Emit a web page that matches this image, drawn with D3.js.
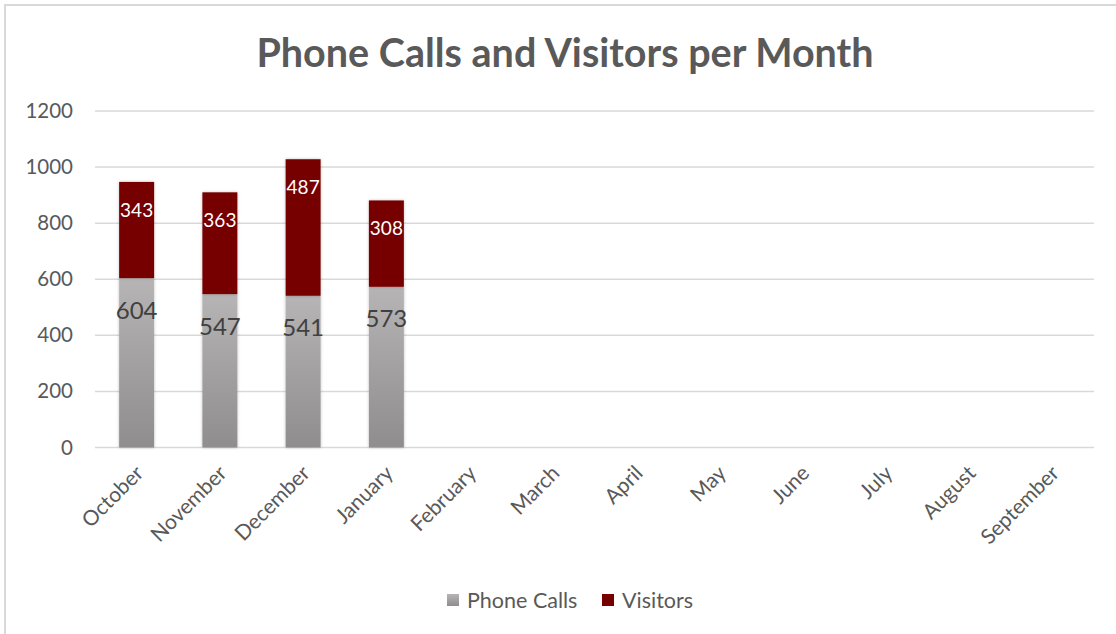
<!DOCTYPE html>
<html>
<head>
<meta charset="utf-8">
<script src="https://cdn.jsdelivr.net/npm/d3@7"></script>
<style>
  html, body { margin: 0; padding: 0; background: #fff; }
  svg { display: block; font-family: Lato, "Open Sans", sans-serif; }
</style>
</head>
<body>
<svg id="chart" width="1116" height="634"></svg>
<script>
const title = "Phone Calls and Visitors per Month";
const months = ["October", "November", "December", "January", "February", "March",
  "April", "May", "June", "July", "August", "September"];
// only the first four months have data so far
const phoneCalls = [604, 547, 541, 573];
const visitors = [343, 363, 487, 308];
const seriesNames = ["Phone Calls", "Visitors"];
const yTicks = [0, 200, 400, 600, 800, 1000, 1200];

const dims = {
  width: 1116,
  height: 634,
  left: 95,
  right: 1094,
  top: 111,
  bottom: 447.5,
};

const rows = months.map((m, i) => ({
  month: m,
  "Phone Calls": phoneCalls[i] || 0,
  Visitors: visitors[i] || 0,
}));

const svg = d3.select("#chart");

const defs = svg.append("defs");
defs
  .append("linearGradient")
  .attr("id", "gray-grad")
  .attr("x1", 0).attr("y1", 0).attr("x2", 0).attr("y2", 1)
  .call((g) => g.append("stop").attr("offset", "0%").attr("stop-color", "#b6b4b4"))
  .call((g) => g.append("stop").attr("offset", "100%").attr("stop-color", "#8f8d8d"));
defs
  .append("filter")
  .attr("id", "bar-shadow")
  .attr("x", "-20%").attr("y", "-5%").attr("width", "140%").attr("height", "110%")
  .append("feDropShadow")
  .attr("dx", 0).attr("dy", 0)
  .attr("stdDeviation", 1.5)
  .attr("flood-color", "#000")
  .attr("flood-opacity", 0.25);

const color = d3.scaleOrdinal().domain(seriesNames).range(["url(#gray-grad)", "#760000"]);

// frame (only top and left edges show in the picture)
svg.append("path")
  .attr("d", `M5,${dims.height} V5 H${dims.width}`)
  .attr("fill", "none")
  .attr("stroke", "#d9d9d9")
  .attr("stroke-width", 2);

svg.append("text")
  .attr("x", 565)
  .attr("y", 53)
  .attr("dy", "0.35em")
  .attr("text-anchor", "middle")
  .attr("fill", "#595959")
  .attr("font-size", 39.5)
  .attr("font-weight", "bold")
  .text(title);

const x = d3
  .scaleBand()
  .domain(months)
  .range([dims.left, dims.right])
  .paddingInner(0.58)
  .paddingOuter(0.29);

const y = d3.scaleLinear().domain([0, 1200]).range([dims.bottom, dims.top]);

// gridlines
svg.append("g")
  .attr("class", "grid")
  .selectAll("line")
  .data(yTicks)
  .join("line")
  .attr("x1", dims.left)
  .attr("x2", dims.right)
  .attr("y1", (d) => y(d))
  .attr("y2", (d) => y(d))
  .attr("stroke", "#d9d9d9")
  .attr("stroke-width", 1.5);

// y axis labels
const yAxis = svg.append("g")
  .attr("transform", `translate(${dims.left},0)`)
  .call(d3.axisLeft(y).tickValues(yTicks).tickFormat(d3.format("d")).tickSize(0).tickPadding(22));
yAxis.select(".domain").remove();
yAxis.selectAll("text")
  .attr("fill", "#595959")
  .attr("font-size", 20.5)
  .attr("font-family", "Lato, sans-serif");

// x axis labels
const xAxis = svg.append("g")
  .attr("transform", `translate(0,${dims.bottom})`)
  .call(d3.axisBottom(x).tickSize(0).tickPadding(0));
xAxis.select(".domain").remove();
xAxis.selectAll("text")
  .attr("fill", "#595959")
  .attr("font-size", 21)
  .attr("font-family", "Lato, sans-serif")
  .attr("text-anchor", "end")
  .attr("dy", 0)
  .attr("y", 0)
  .attr("transform", "translate(8,27) rotate(-45)");

// stacked bars
const stacked = d3.stack().keys(seriesNames)(rows);

const gBars = svg.append("g").attr("class", "bars");
const layers = gBars
  .selectAll("g")
  .data(stacked)
  .join("g")
  .attr("fill", (d) => color(d.key));

layers
  .selectAll("rect")
  .data((d) => d.filter((s) => s[1] > s[0]))
  .join("rect")
  .attr("x", (d) => x(d.data.month))
  .attr("width", x.bandwidth())
  .attr("y", (d) => y(d[1]))
  .attr("height", (d) => y(d[0]) - y(d[1]))
  .attr("filter", "url(#bar-shadow)");

// data labels, inside end
const labelStyle = {
  "Phone Calls": { size: 24, fill: "#404040", offset: 32 },
  Visitors: { size: 19, fill: "#ffffff", offset: 28 },
};

svg.append("g")
  .attr("class", "labels")
  .selectAll("g")
  .data(stacked)
  .join("g")
  .each(function (layer) {
    const st = labelStyle[layer.key];
    d3.select(this)
      .selectAll("text")
      .data(layer.filter((s) => s[1] > s[0]))
      .join("text")
      .attr("x", (d) => x(d.data.month) + x.bandwidth() / 2)
      .attr("y", (d) => y(d[1]) + st.offset)
      .attr("dy", "0.35em")
      .attr("text-anchor", "middle")
      .attr("font-size", st.size)
      .attr("fill", st.fill)
      .text((d) => d[1] - d[0]);
  });

// legend
const legendPos = [447, 602];
const legend = svg.append("g")
  .attr("class", "legend")
  .selectAll("g")
  .data(seriesNames)
  .join("g")
  .attr("transform", (d, i) => `translate(${legendPos[i]},600)`);
legend.append("rect")
  .attr("x", 0)
  .attr("y", -6)
  .attr("width", 12)
  .attr("height", 12)
  .attr("fill", (d) => color(d));
legend.append("text")
  .attr("x", 20)
  .attr("dy", "0.35em")
  .attr("font-size", 21.5)
  .attr("fill", "#595959")
  .text((d) => d);
</script>
</body>
</html>
